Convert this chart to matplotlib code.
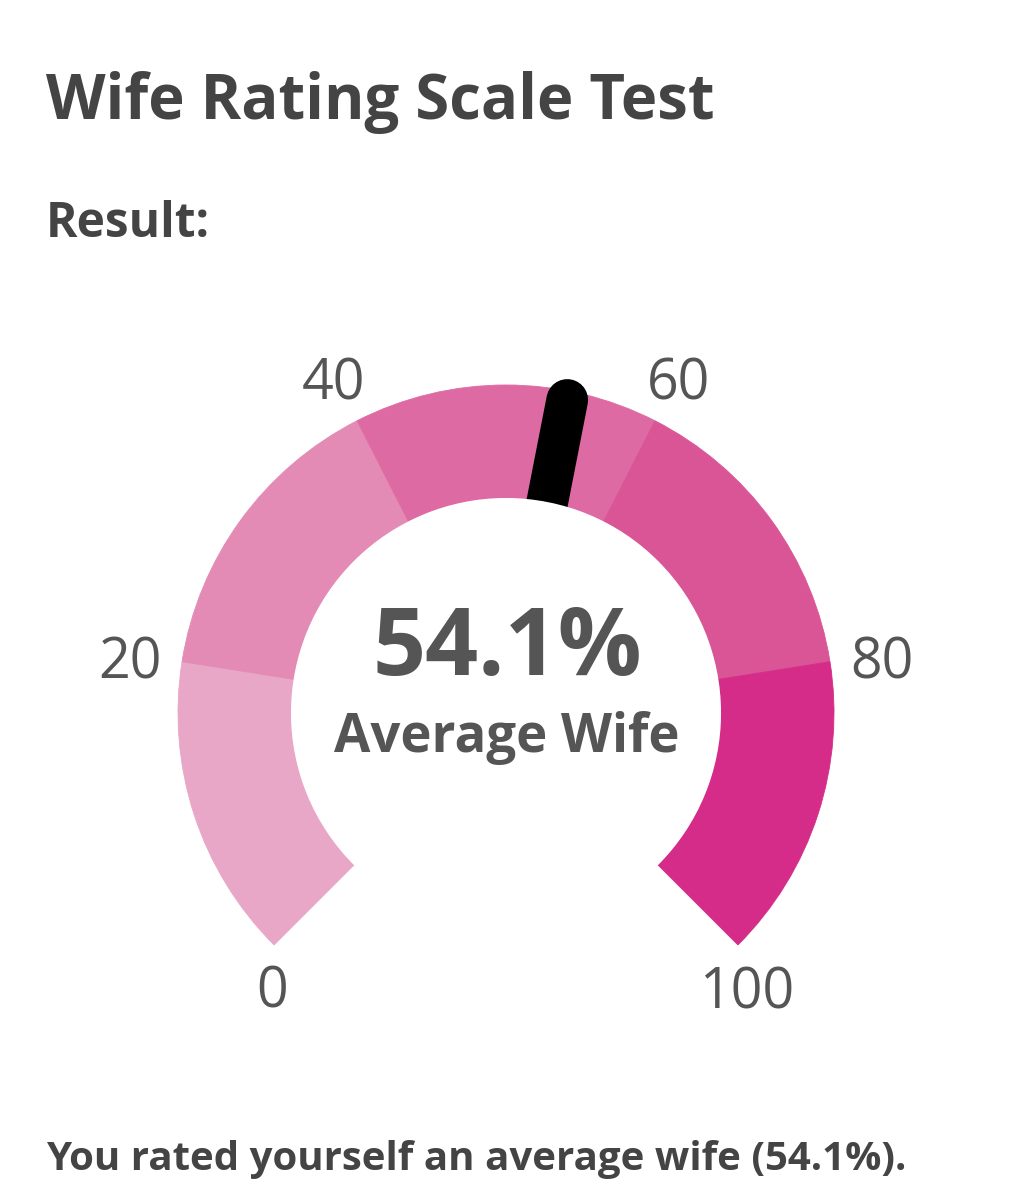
import numpy as np
import matplotlib.pyplot as plt
from matplotlib.patches import Wedge, Circle

# gauge data
bands = [(0, 20), (20, 40), (40, 60), (60, 80), (80, 100)]
band_colors = ['#E8A7C7', '#E38BB5', '#DE6AA3', '#DA5596', '#D62C89']
tick_values = [0, 20, 40, 60, 80, 100]
score = 54.1
rating = 'Average Wife'

W, H = 1013, 1200
fig = plt.figure(figsize=(W / 100, H / 100), dpi=100)
ax = fig.add_axes([0, 0, 1, 1])
ax.set_xlim(0, W)
ax.set_ylim(0, H)
ax.set_aspect('equal')
ax.axis('off')

plt.rcParams['font.family'] = ['Open Sans', 'DejaVu Sans']
txt = '#444444'

cx, cy = 506, H - 713
r_out, r_in = 328, 215


def ang(v):
    # 270 degree gauge, 0 at lower left, 100 at lower right
    return 225 - 2.7 * v


for (v0, v1), c in zip(bands, band_colors):
    ax.add_patch(Wedge((cx, cy), r_out, ang(v1), ang(v0), width=r_out - r_in,
                       facecolor=c, edgecolor=c, lw=0.6, zorder=1))

# needle
a = np.deg2rad(ang(score))
ax.plot([cx, cx + 319 * np.cos(a)], [cy, cy + 319 * np.sin(a)],
        color='black', lw=30, solid_capstyle='round', zorder=2)
ax.add_patch(Circle((cx, cy), r_in, facecolor='white', edgecolor='none', zorder=3))

# tick labels
for v in tick_values:
    t = ang(v)
    r, dy = 381, -11
    if v == 0:
        t, r, dy = t + 5.2, 365, 0
    elif v == 100:
        t, r, dy = t - 4.5, 370, 0
    ta = np.deg2rad(t)
    ax.text(cx + r * np.cos(ta), cy + r * np.sin(ta) + dy, str(v), fontsize=40,
            color='#555555', ha='center', va='center', zorder=4)

ax.text(cx + 1, H - 675, f'{score}%', fontsize=67, fontweight='bold', color='#555555',
        ha='center', va='baseline', zorder=4)
ax.text(cx + 1, H - 752, rating, fontsize=38, fontweight='bold', color='#555555',
        ha='center', va='baseline', zorder=4)

# page texts
ax.text(46, H - 119, 'Wife Rating Scale Test', fontsize=44.4, fontweight='bold',
        color=txt, ha='left', va='baseline')
ax.text(46, H - 237, 'Result:', fontsize=34.5, fontweight='bold',
        color=txt, ha='left', va='baseline')
ax.text(46, H - 1170, f'You rated yourself an average wife ({score}%).', fontsize=29,
        fontweight='bold', color=txt, ha='left', va='baseline')

fig.savefig('out.png', dpi=100, facecolor='white')
